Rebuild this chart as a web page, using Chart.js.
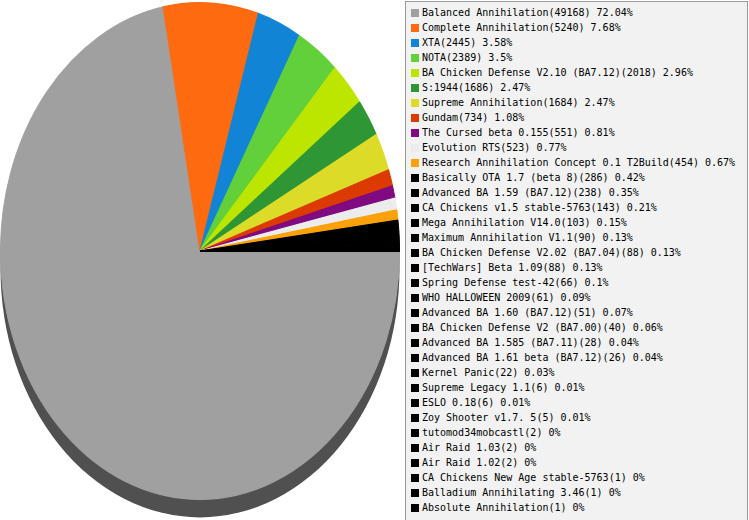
<!DOCTYPE html>
<html>
<head>
<meta charset="utf-8">
<script src="https://cdn.jsdelivr.net/npm/chart.js@4/dist/chart.umd.min.js"></script>
<style>
  body { margin: 0; background: #fff; }
  #wrap { position: relative; width: 749px; height: 520px; }
  #legend {
    position: absolute; left: 405px; top: 1px; width: 341px; height: 516px;
    border: 1px solid #999; background: #f2f2f2;
    font: 10px "DejaVu Sans Mono", monospace; color: #000;
    padding-top: 3px; box-sizing: content-box;
  }
  #legend div { height: 15px; line-height: 15px; white-space: nowrap; position: relative; padding-left: 16px; }
  #legend span { position: absolute; left: 5px; top: 4px; width: 8px; height: 8px; }
</style>
</head>
<body>
<div id="wrap">
  <canvas id="pie"></canvas>
  <div id="legend"></div>
</div>
<script>
var mods = [
  'Balanced Annihilation', 'Complete Annihilation', 'XTA', 'NOTA',
  'BA Chicken Defense V2.10 (BA7.12)', 'S:1944', 'Supreme Annihilation', 'Gundam',
  'The Cursed beta 0.155', 'Evolution RTS', 'Research Annihilation Concept 0.1 T2Build',
  'Basically OTA 1.7 (beta 8)', 'Advanced BA 1.59 (BA7.12)', 'CA Chickens v1.5 stable-5763',
  'Mega Annihilation V14.0', 'Maximum Annihilation V1.1', 'BA Chicken Defense V2.02 (BA7.04)',
  '[TechWars] Beta 1.09', 'Spring Defense test-42', 'WHO HALLOWEEN 2009',
  'Advanced BA 1.60 (BA7.12)', 'BA Chicken Defense V2 (BA7.00)', 'Advanced BA 1.585 (BA7.11)',
  'Advanced BA 1.61 beta (BA7.12)', 'Kernel Panic', 'Supreme Legacy 1.1', 'ESLO 0.18',
  'Zoy Shooter v1.7. 5', 'tutomod34mobcastl', 'Air Raid 1.03', 'Air Raid 1.02',
  'CA Chickens New Age stable-5763', 'Balladium Annihilating 3.46', 'Absolute Annihilation'
]
var games = [49168, 5240, 2445, 2389, 2018, 1686, 1684, 734, 551, 523, 454, 286, 238, 143,
  103, 90, 88, 88, 66, 61, 51, 40, 28, 26, 22, 6, 6, 5, 2, 2, 2, 1, 1, 1]
var shares = ['72.04', '7.68', '3.58', '3.5', '2.96', '2.47', '2.47', '1.08', '0.81', '0.77',
  '0.67', '0.42', '0.35', '0.21', '0.15', '0.13', '0.13', '0.13', '0.1', '0.09', '0.07',
  '0.06', '0.04', '0.04', '0.03', '0.01', '0.01', '0.01', '0', '0', '0', '0', '0', '0']
var topColors = ['#a0a0a0', '#fe6a0f', '#1284d6', '#62d03a', '#bce600', '#2e9634',
  '#dcdc28', '#dc3a00', '#800a80', '#ececec', '#fca10a']

var colors = mods.map(function (m, i) { return topColors[i] || '#000000' })

// squash the round pie into an ellipse and give it a dark side
var squash = 1.245
var depth = 18
var tiltPlugin = {
  id: 'tilt',
  beforeDatasetsDraw: function (chart) {
    var arc = chart.getDatasetMeta(0).data[0]
    var ctx = chart.ctx
    var r = arc.outerRadius
    ctx.save()
    ctx.fillStyle = '#505050'
    ctx.beginPath()
    ctx.ellipse(arc.x, arc.y + depth, r, r * squash, 0, 0, Math.PI)
    ctx.lineTo(arc.x - r, arc.y)
    ctx.lineTo(arc.x + r, arc.y)
    ctx.closePath()
    ctx.fill()
    ctx.translate(arc.x, arc.y)
    ctx.scale(1, squash)
    ctx.translate(-arc.x, -arc.y)
  },
  afterDatasetsDraw: function (chart) {
    chart.ctx.restore()
  }
}

var ctx = document.getElementById('pie').getContext('2d')
var chart = new Chart(ctx, {
  type: 'pie',
  data: {
    labels: mods,
    datasets: [{
      data: games,
      backgroundColor: colors,
      borderColor: colors,
      borderWidth: 1,
      clip: false
    }]
  },
  options: {
    responsive: true,
    maintainAspectRatio: false,
    animation: false,
    rotation: 90,
    layout: { padding: { left: 0, right: 349, top: 51, bottom: 69 } },
    plugins: { legend: { display: false }, tooltip: { enabled: false } }
  },
  plugins: [tiltPlugin]
})

var legend = document.getElementById('legend')
mods.forEach(function (m, i) {
  var row = document.createElement('div')
  var box = document.createElement('span')
  box.style.background = colors[i]
  row.appendChild(box)
  row.appendChild(document.createTextNode(m + '(' + games[i] + ') ' + shares[i] + '%'))
  legend.appendChild(row)
})
</script>
</body>
</html>
